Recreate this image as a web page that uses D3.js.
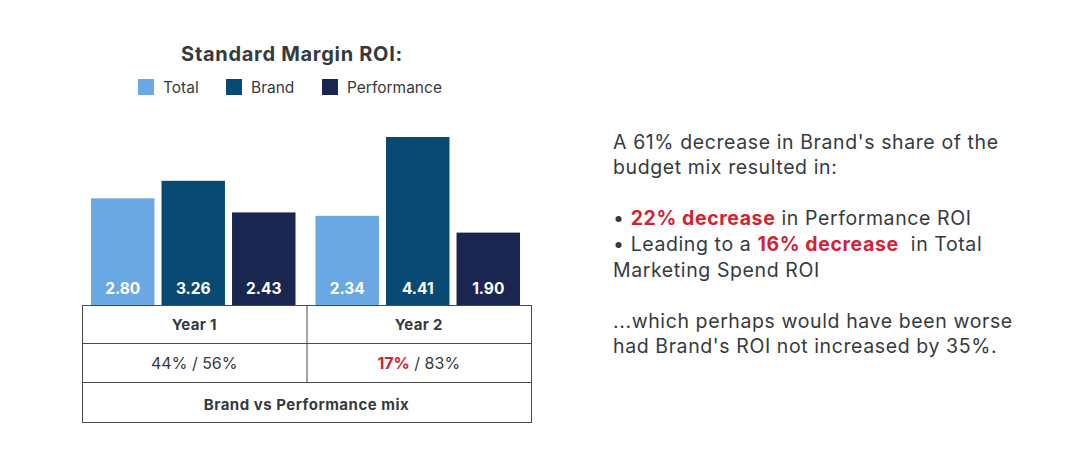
<!DOCTYPE html>
<html><head><meta charset="utf-8">
<script src="https://cdn.jsdelivr.net/npm/d3@7"></script>
<style>
html,body{margin:0;padding:0;background:#fff;}
svg{display:block;font-family:Inter, "Noto Sans", sans-serif;}
</style></head>
<body>
<svg id="chart" width="1075" height="472"></svg>
<script>
const years = ["Year 1", "Year 2"];
const seriesNames = ["Total", "Brand", "Performance"];
const totalROI = [2.80, 2.34];
const brandROI = [3.26, 4.41];
const performanceROI = [2.43, 1.90];
const mixBrand = ["44%", "17%"];
const mixPerf = ["56%", "83%"];
const colors = ["#6aa8e3", "#084a73", "#19264f"];
const titleText = "Standard Margin ROI:";
const mixLabel = "Brand vs Performance mix";

const values = [totalROI, brandROI, performanceROI];
const data = years.map((y, i) => ({year: y, vals: seriesNames.map((s, j) => ({key: s, value: values[j][i]}))}));

const svg = d3.select("#chart");
const textColor = "#363a3d";
const red = "#d22233";

// title
svg.append("text").attr("x", 292).attr("y", 60.5).attr("text-anchor", "middle")
  .attr("font-size", 20).attr("font-weight", 700).attr("letter-spacing", 0.7)
  .attr("fill", textColor).text(titleText);

// legend
const legendX = [138, 226, 322];
const lg = svg.selectAll(".lg").data(seriesNames).enter().append("g")
  .attr("transform", (d, i) => `translate(${legendX[i]},79)`);
lg.append("rect").attr("width", 16).attr("height", 16).attr("fill", (d, i) => colors[i]);
lg.append("text").attr("x", 25).attr("y", 14).attr("font-size", 15.5).attr("fill", textColor).text(d => d);

// scales
const tableLeft = 82, tableRight = 531, tableTop = 305;
const x0 = d3.scaleBand().domain(years).range([tableLeft, tableRight]);
const x1 = d3.scaleBand().domain(seriesNames).range([9, x0.bandwidth() - 11]).paddingInner(0.1);
const y = d3.scaleLinear().domain([0, d3.max(values.flat())]).range([tableTop, 137]);

const groups = svg.selectAll(".grp").data(data).enter().append("g")
  .attr("transform", d => `translate(${x0(d.year)},0)`);
groups.selectAll("rect").data(d => d.vals).enter().append("rect")
  .attr("x", d => x1(d.key)).attr("width", x1.bandwidth())
  .attr("y", d => y(d.value)).attr("height", d => tableTop - y(d.value))
  .attr("fill", (d, i) => colors[i]);
groups.selectAll(".vl").data(d => d.vals).enter().append("text")
  .attr("x", d => x1(d.key) + x1.bandwidth() / 2).attr("y", 293.5)
  .attr("text-anchor", "middle").attr("font-size", 15.5).attr("font-weight", 700)
  .attr("fill", "#fff").text(d => d.value.toFixed(2));

// table
const rows = [305, 343, 382, 422];
const stroke = "#4a4a4a";
const tbl = svg.append("g").attr("fill", "none").attr("stroke", stroke).attr("stroke-width", 1);
tbl.append("rect").attr("x", tableLeft + 0.5).attr("y", rows[0] + 0.5)
  .attr("width", tableRight - tableLeft).attr("height", rows[3] - rows[0]);
tbl.append("line").attr("x1", tableLeft).attr("x2", tableRight).attr("y1", rows[1] + 0.5).attr("y2", rows[1] + 0.5);
tbl.append("line").attr("x1", tableLeft).attr("x2", tableRight).attr("y1", rows[2] + 0.5).attr("y2", rows[2] + 0.5);
tbl.append("line").attr("x1", x0("Year 2") + 0.5).attr("x2", x0("Year 2") + 0.5).attr("y1", rows[0]).attr("y2", rows[2]);

years.forEach((yr, i) => {
  const cx = x0(yr) + x0.bandwidth() / 2;
  svg.append("text").attr("x", cx).attr("y", 329.5).attr("text-anchor", "middle")
    .attr("font-size", 15).attr("font-weight", 700).attr("letter-spacing", 0.3)
    .attr("fill", textColor).text(yr);
  const t = svg.append("text").attr("x", cx).attr("y", 369).attr("text-anchor", "middle")
    .attr("font-size", 16).attr("fill", textColor);
  t.append("tspan").attr("fill", i === 1 ? red : textColor).attr("font-weight", i === 1 ? 700 : 400).text(mixBrand[i]);
  t.append("tspan").text(" / " + mixPerf[i]);
});
svg.append("text").attr("x", (tableLeft + tableRight) / 2).attr("y", 409.5).attr("text-anchor", "middle")
  .attr("font-size", 15).attr("font-weight", 700).attr("letter-spacing", 0.5)
  .attr("fill", textColor).text(mixLabel);

// right side narrative
const narrative = [
  [{t: "A 61% decrease in Brand's share of the"}],
  [{t: "budget mix resulted in:"}],
  [],
  [{t: "• "}, {t: "22% decrease", r: 1}, {t: " in Performance ROI"}],
  [{t: "• Leading to a "}, {t: "16% decrease", r: 1}, {t: "  in Total"}],
  [{t: "Marketing Spend ROI"}],
  [],
  [{t: "...which perhaps would have been worse"}],
  [{t: "had Brand's ROI not increased by 35%."}]
];
narrative.forEach((line, n) => {
  if (!line.length) return;
  const t = svg.append("text").attr("x", 613).attr("y", 148.5 + 25.6 * n)
    .attr("font-size", 19.5).attr("letter-spacing", 0.6).attr("fill", textColor)
    .attr("xml:space", "preserve").style("white-space", "pre");
  line.forEach(seg => t.append("tspan").attr("fill", seg.r ? red : textColor)
    .attr("font-weight", seg.r ? 700 : 400).text(seg.t));
});
</script>
</body></html>
